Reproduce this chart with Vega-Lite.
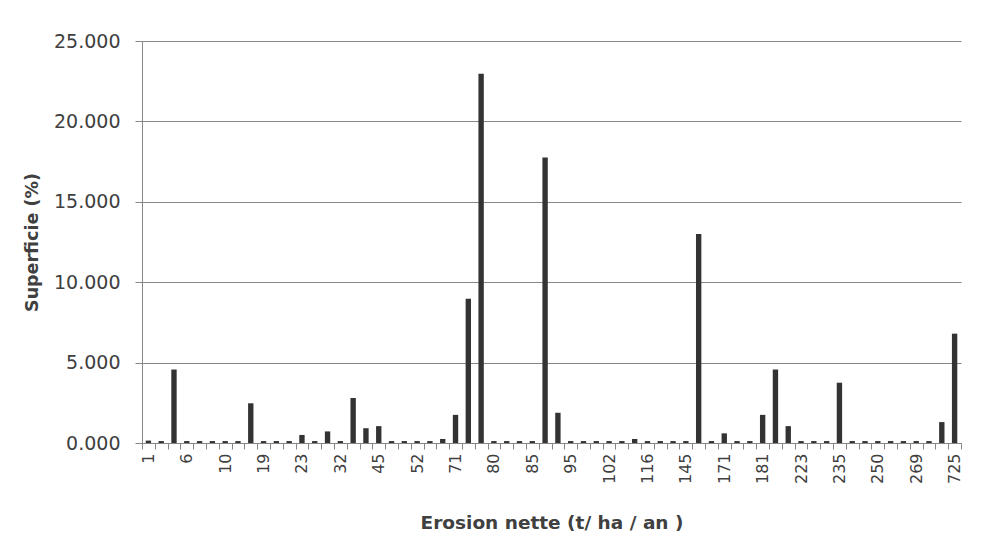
{
  "$schema": "https://vega.github.io/schema/vega-lite/v6.json",
  "width": 819,
  "height": 402,
  "autosize": {"type": "none"},
  "padding": {"left": 142, "top": 41, "right": 22, "bottom": 93},
  "background": "white",
  "config": {"view": {"stroke": null}, "font": "DejaVu Sans"},
  "data": {
    "values": [
      {"erosion": "1", "superficie": 0.15},
      {"erosion": "2", "superficie": 0.12},
      {"erosion": "4", "superficie": 4.57},
      {"erosion": "6", "superficie": 0.12},
      {"erosion": "7", "superficie": 0.12},
      {"erosion": "8", "superficie": 0.12},
      {"erosion": "10", "superficie": 0.12},
      {"erosion": "12", "superficie": 0.12},
      {"erosion": "15", "superficie": 2.47},
      {"erosion": "19", "superficie": 0.12},
      {"erosion": "20", "superficie": 0.12},
      {"erosion": "21", "superficie": 0.12},
      {"erosion": "23", "superficie": 0.5},
      {"erosion": "25", "superficie": 0.12},
      {"erosion": "28", "superficie": 0.72},
      {"erosion": "32", "superficie": 0.12},
      {"erosion": "35", "superficie": 2.8},
      {"erosion": "40", "superficie": 0.92},
      {"erosion": "45", "superficie": 1.05},
      {"erosion": "47", "superficie": 0.12},
      {"erosion": "50", "superficie": 0.12},
      {"erosion": "52", "superficie": 0.12},
      {"erosion": "55", "superficie": 0.12},
      {"erosion": "62", "superficie": 0.25},
      {"erosion": "71", "superficie": 1.75},
      {"erosion": "75", "superficie": 8.97},
      {"erosion": "78", "superficie": 22.97},
      {"erosion": "80", "superficie": 0.12},
      {"erosion": "82", "superficie": 0.12},
      {"erosion": "83", "superficie": 0.12},
      {"erosion": "85", "superficie": 0.12},
      {"erosion": "88", "superficie": 17.75},
      {"erosion": "91", "superficie": 1.88},
      {"erosion": "95", "superficie": 0.12},
      {"erosion": "97", "superficie": 0.12},
      {"erosion": "99", "superficie": 0.12},
      {"erosion": "102", "superficie": 0.12},
      {"erosion": "106", "superficie": 0.12},
      {"erosion": "110", "superficie": 0.25},
      {"erosion": "116", "superficie": 0.12},
      {"erosion": "120", "superficie": 0.12},
      {"erosion": "130", "superficie": 0.12},
      {"erosion": "145", "superficie": 0.12},
      {"erosion": "150", "superficie": 13.0},
      {"erosion": "160", "superficie": 0.12},
      {"erosion": "171", "superficie": 0.6},
      {"erosion": "175", "superficie": 0.12},
      {"erosion": "178", "superficie": 0.12},
      {"erosion": "181", "superficie": 1.75},
      {"erosion": "190", "superficie": 4.57},
      {"erosion": "205", "superficie": 1.05},
      {"erosion": "223", "superficie": 0.12},
      {"erosion": "226", "superficie": 0.12},
      {"erosion": "230", "superficie": 0.12},
      {"erosion": "235", "superficie": 3.75},
      {"erosion": "240", "superficie": 0.12},
      {"erosion": "245", "superficie": 0.12},
      {"erosion": "250", "superficie": 0.12},
      {"erosion": "255", "superficie": 0.12},
      {"erosion": "262", "superficie": 0.12},
      {"erosion": "269", "superficie": 0.12},
      {"erosion": "290", "superficie": 0.12},
      {"erosion": "350", "superficie": 1.3},
      {"erosion": "725", "superficie": 6.8}
    ]
  },
  "mark": {"type": "bar", "color": "#333333", "width": {"band": 0.42}},
  "encoding": {
    "x": {
      "field": "erosion",
      "type": "ordinal",
      "sort": null,
      "scale": {"paddingInner": 0, "paddingOuter": 0},
      "axis": {
        "title": "Erosion nette (t/ ha / an )",
        "titleFontWeight": "bold",
        "titleFontSize": 18.5,
        "titleColor": "#404040",
        "titlePadding": 30,
        "labelAngle": -90,
        "labelFontSize": 16,
        "labelColor": "#404040",
        "labelPadding": 4,
        "labelOverlap": false,
        "labelFlush": false,
        "labelExpr": "indexof(['1','6','10','19','23','32','45','52','71','80','85','95','102','116','145','171','181','223','235','250','269','725'], datum.value) >= 0 ? datum.label : ''",
        "tickBand": "extent",
        "tickSize": 6,
        "tickColor": "#868686",
        "domainColor": "#868686",
        "grid": false
      }
    },
    "y": {
      "field": "superficie",
      "type": "quantitative",
      "scale": {"domain": [0, 25]},
      "axis": {
        "title": "Superficie (%)",
        "titleFontWeight": "bold",
        "titleFontSize": 17.5,
        "titleColor": "#404040",
        "titlePadding": 12,
        "values": [0, 5, 10, 15, 20, 25],
        "format": ".3f",
        "labelFontSize": 19,
        "labelColor": "#404040",
        "labelPadding": 15,
        "tickSize": 7,
        "tickColor": "#868686",
        "domainColor": "#868686",
        "grid": true,
        "gridColor": "#868686",
        "gridOpacity": 1
      }
    }
  }
}
